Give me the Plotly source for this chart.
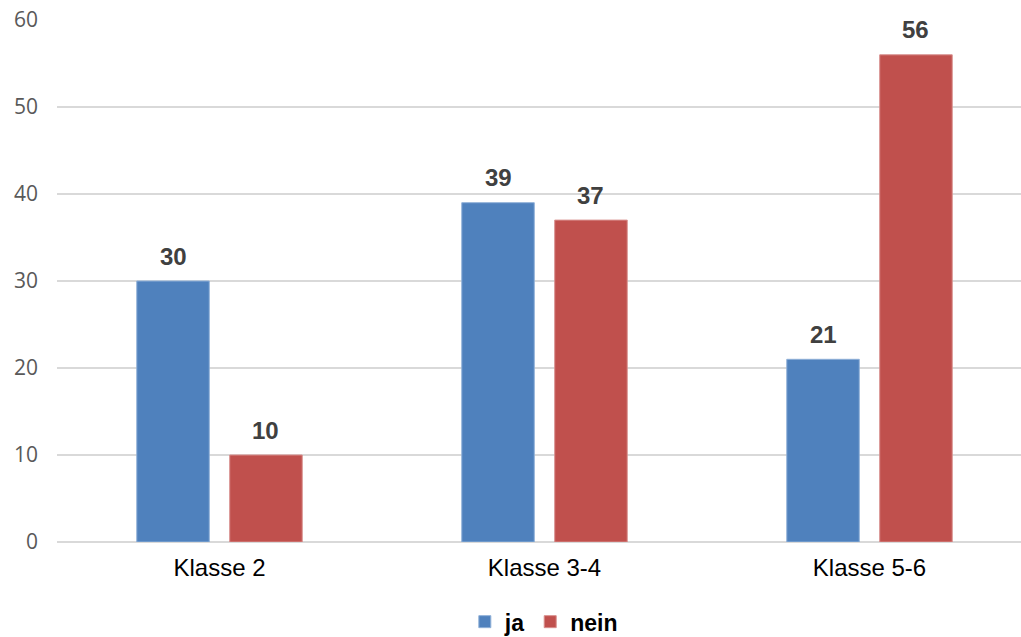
import plotly.graph_objects as go

categories = ["Klasse 2", "Klasse 3-4", "Klasse 5-6"]
ja = [30, 39, 21]
nein = [10, 37, 56]
y_ticks = [0, 10, 20, 30, 40, 50, 60]

blue = "#4F81BD"
red = "#C0504D"

fig = go.Figure()
fig.add_trace(go.Bar(name="ja", x=categories, y=ja, marker=dict(color=blue, line=dict(color="#8FB0D8", width=1))))
fig.add_trace(go.Bar(name="nein", x=categories, y=nein, marker=dict(color=red, line=dict(color="#D88F8D", width=1))))

annotations = []
for series, shift in ((ja, -46), (nein, 46)):
    for c, v in zip(categories, series):
        annotations.append(dict(x=c, y=v, xref="x", yref="y", text=str(v), showarrow=False,
                                xshift=shift, yshift=25, yanchor="middle",
                                font=dict(family="Liberation Sans, Arial", size=24, color="#404040", weight="bold")))

fig.update_layout(
    width=1021, height=637,
    margin=dict(l=57, r=0, t=20, b=95),
    plot_bgcolor="white", paper_bgcolor="white",
    barmode="group", bargap=0.428, bargroupgap=0.22,
    showlegend=True,
    legend=dict(orientation="h", xref="paper", x=0.505, xanchor="center",
                yref="container", y=0.024, yanchor="middle",
                font=dict(family="Liberation Sans, Arial", size=23, color="black", weight="bold"),
                itemclick=False, itemdoubleclick=False),
    annotations=annotations,
)
fig.update_xaxes(range=[-0.5, -0.5 + 964 / 325], showgrid=False, showline=False, ticks="",
                 tickfont=dict(family="Liberation Sans, Arial", size=24, color="black"),
                 ticklabelstandoff=9)
fig.update_yaxes(range=[0, 60], tickvals=y_ticks, showgrid=True, gridcolor="#D9D9D9", gridwidth=1.5,
                 zeroline=True, zerolinecolor="#D9D9D9", zerolinewidth=1.5, showline=False, ticks="",
                 tickfont=dict(family="Open Sans", size=21, color="#595959"),
                 ticklabelstandoff=18)

fig.write_html("out.html")
